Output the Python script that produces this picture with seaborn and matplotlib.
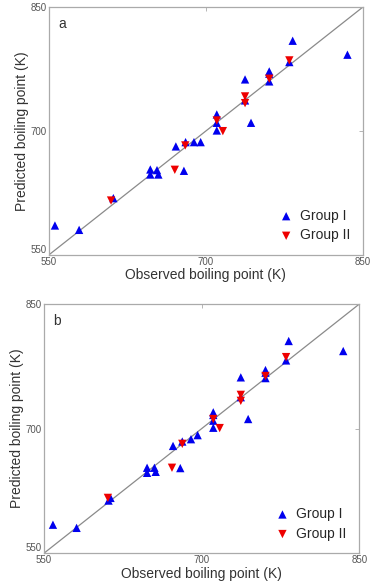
import numpy as np
import pandas as pd
import matplotlib
matplotlib.use("Agg")
import matplotlib.pyplot as plt
import seaborn as sns

# panel a - observed vs predicted boiling points (K)
a_obs_1 = [555.8, 578.9, 611.6, 646.9, 646.9, 653.3, 654.6, 671.3, 680.6, 679.0, 688.6, 695.0,
           710.4, 710.4, 710.4, 737.4, 737.4, 743.1, 760.5, 760.5, 760.5, 779.7, 782.9, 835.2]
a_pred_1 = [585.6, 580.3, 618.7, 653.4, 647.3, 652.6, 647.3, 681.3, 686.5, 651.8, 686.5, 686.5,
            720.0, 709.9, 700.6, 762.4, 737.0, 709.9, 772.1, 769.3, 760.0, 783.4, 809.2, 792.3]
a_obs_2 = [609.4, 670.3, 680.3, 710.4, 716.2, 737.4, 737.4, 760.5, 779.7]
a_pred_2 = [615.8, 653.0, 682.5, 712.7, 699.8, 741.8, 733.7, 763.2, 785.4]

# panel b
b_obs_1 = [558.5, 581.0, 611.4, 613.3, 648.1, 648.1, 655.1, 656.3, 672.8, 681.6, 679.7, 689.9,
           696.2, 711.1, 711.1, 711.1, 711.1, 737.3, 737.3, 744.3, 760.8, 760.8, 760.8, 780.4,
           782.9, 834.8]
b_pred_1 = [584.3, 580.5, 613.4, 616.6, 652.9, 646.8, 652.9, 648.0, 679.2, 684.5, 652.5, 687.3,
            692.2, 719.7, 716.5, 709.6, 701.1, 761.8, 737.9, 711.6, 770.6, 767.4, 760.9, 782.2,
            805.6, 793.5]
b_obs_2 = [610.8, 671.8, 681.6, 711.1, 717.2, 737.3, 737.3, 760.8, 780.4]
b_pred_2 = [616.6, 652.9, 681.7, 711.6, 700.7, 740.7, 733.5, 763.4, 786.2]

ticks = [550, 700, 850]

sns.set_style("white")
plt.rcParams['font.family'] = ['Liberation Sans', 'DejaVu Sans']

fig = plt.figure(figsize=(3.73, 5.86), dpi=100)
ax_a = fig.add_axes([0.131, 0.565, 0.842, 0.423])
ax_b = fig.add_axes([0.118, 0.056, 0.845, 0.425])


def draw_panel(ax, obs1, pred1, obs2, pred2, tag):
    ax.plot([550, 850], [550, 850], color='#8a8a8a', lw=0.9, zorder=1)
    sns.scatterplot(x=obs1, y=pred1, ax=ax, marker='^', color='#0000ee', s=36,
                    edgecolor='none', label='Group I', zorder=3)
    sns.scatterplot(x=obs2, y=pred2, ax=ax, marker='v', color='#ee0000', s=36,
                    edgecolor='none', label='Group II', zorder=4)
    ax.set_xlim(550, 850)
    ax.set_ylim(550, 850)
    ax.set_xticks(ticks)
    ax.set_yticks(ticks)
    ax.tick_params(direction='in', length=3, width=0.6, colors='#aaaaaa',
                   labelcolor='#555555', labelsize=7, top=True, right=True, pad=1.5)
    # the bottom y label sits just above the x label at the corner
    ax.get_yticklabels()[0].set_verticalalignment('bottom')
    for sp in ax.spines.values():
        sp.set_color('#aaaaaa')
        sp.set_linewidth(0.9)
    ax.set_xlabel('Observed boiling point (K)', fontsize=10, color='#333333', labelpad=1)
    ax.set_ylabel('Predicted boiling point (K)', fontsize=10, color='#333333', labelpad=1)
    ax.text(0.03, 0.915, tag, transform=ax.transAxes, fontsize=10, color='#333333')
    ax.legend(loc='lower right', frameon=False, fontsize=10, handletextpad=0.4,
              labelspacing=0.4, borderaxespad=0.3, borderpad=0.6, handlelength=1.2)


draw_panel(ax_a, a_obs_1, a_pred_1, a_obs_2, a_pred_2, 'a')
draw_panel(ax_b, b_obs_1, b_pred_1, b_obs_2, b_pred_2, 'b')

fig.savefig('out.png', dpi=100)
